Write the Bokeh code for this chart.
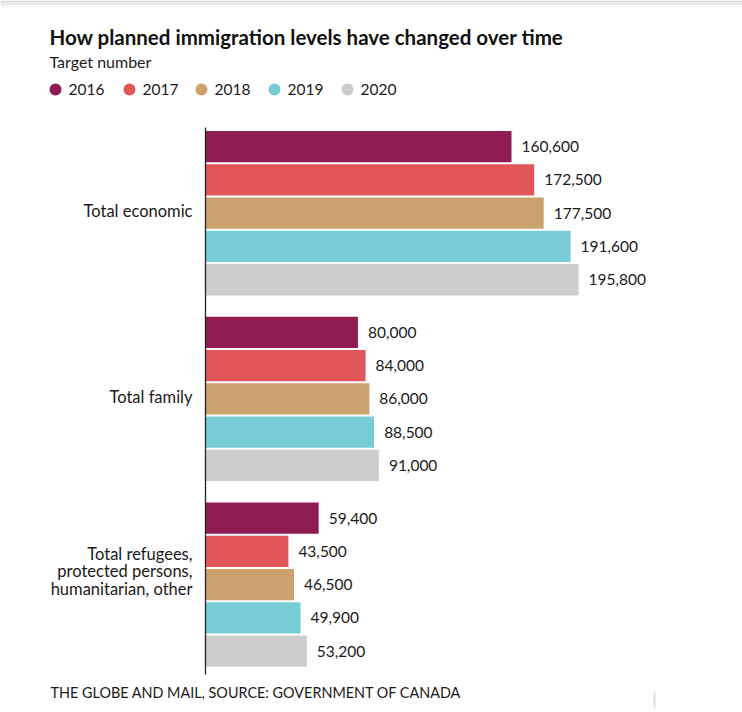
from bokeh.plotting import figure
from bokeh.models import Range1d, ColumnDataSource
from bokeh.core.properties import value
from bokeh.embed import file_html
from bokeh.resources import INLINE

# ---- data ----
categories = ["Total economic", "Total family", "Total refugees, protected persons, humanitarian, other"]
category_lines = [["Total economic"], ["Total family"], ["Total refugees,", "protected persons,", "humanitarian, other"]]
years = ["2016", "2017", "2018", "2019", "2020"]
colors = ["#8F1C52", "#E15759", "#CBA26D", "#78CCD6", "#CDCDCD"]
values_2016 = [160600, 80000, 59400]
values_2017 = [172500, 84000, 43500]
values_2018 = [177500, 86000, 46500]
values_2019 = [191600, 88500, 49900]
values_2020 = [195800, 91000, 53200]
series = [values_2016, values_2017, values_2018, values_2019, values_2020]

title = "How planned immigration levels have changed over time"
subtitle = "Target number"
footer = "THE GLOBE AND MAIL, SOURCE: GOVERNMENT OF CANADA"

FONT = "Lato"
TXT = "#1a1a1a"

# ---- layout helpers (canvas pixel -> data) ----
W, H = 742, 712
S = 0.0019054          # px per unit on x
SLOT = 33.28           # px per bar slot on y
GROUP = 5.58           # slots per group (5 bars + gap)
X0_PX, Y0_PX = 205, 129.5


def X(px):
    return (px - X0_PX) / S


def Y(py):
    return (py - Y0_PX) / SLOT


p = figure(width=W, height=H, output_backend="svg", toolbar_location=None,
           x_range=Range1d(X(0), X(W)), y_range=Range1d(Y(H), Y(0)),
           x_axis_type=None, y_axis_type=None, min_border=0)
p.outline_line_color = None
p.grid.visible = False
p.background_fill_color = "white"
p.border_fill_color = "white"

# top page shadow
shade_cols = ["#DCDCDC", "#E6E6E6", "#EFEFEF", "#F7F7F7"]
for k, c in enumerate(shade_cols):
    p.quad(left=[X(0)], right=[X(W)], top=[Y(k * 1.75)], bottom=[Y((k + 1) * 1.75)],
           fill_color=c, line_color=None)

# bars
for i, (yr, col, vals) in enumerate(zip(years, colors, series)):
    ys = [g * GROUP + i + 0.5 for g in range(len(categories))]
    src = ColumnDataSource(dict(y=ys, right=vals,
                                label=[f"{v:,}" for v in vals]))
    p.hbar(y="y", left=0, right="right", height=0.94, source=src,
           fill_color=col, line_color=None)
    p.text(x="right", y="y", text="label", source=src, x_offset=10,
           text_baseline="middle", text_align="left",
           text_font=value(FONT), text_font_size="15.5px", text_color=TXT)

# vertical axis line
p.segment(x0=[0], y0=[Y(127)], x1=[0], y1=[Y(674)], line_color="#222222", line_width=1.3)

# category labels (line centres relative to group centre, px)
line_offsets = [[-2.5], [-2], [-31, -13.5, 4]]
for g, lines in enumerate(category_lines):
    center_px = Y0_PX + (g * GROUP + 2.5) * SLOT
    for ln, off in zip(lines, line_offsets[g]):
        p.text(x=[0], y=[Y(center_px + off)], text=[ln], x_offset=-13,
               text_align="right", text_baseline="middle",
               text_font=value(FONT), text_font_size="16.5px", text_color=TXT)

# title / subtitle
p.text(x=[X(49)], y=[Y(36)], text=[title], text_align="left", text_baseline="middle",
       text_font=value(FONT), text_font_style="bold", text_font_size="20.5px", text_color="#111111")
p.text(x=[X(49)], y=[Y(61)], text=[subtitle], text_align="left", text_baseline="middle",
       text_font=value(FONT), text_font_size="16px", text_color=TXT)

# legend
leg_circle_x = [55, 129, 201, 274, 347]
for cx, yr, col in zip(leg_circle_x, years, colors):
    p.scatter(x=[X(cx)], y=[Y(89)], size=12, marker="circle", fill_color=col, line_color=None)
    p.text(x=[X(cx + 13)], y=[Y(89)], text=[yr], text_align="left", text_baseline="middle",
           text_font=value(FONT), text_font_size="15.5px", text_color=TXT)

# footer
p.text(x=[X(50)], y=[Y(692)], text=[footer], text_align="left", text_baseline="middle",
       text_font=value(FONT), text_font_size="14.4px", text_color=TXT)

# small decorative divider
p.segment(x0=[X(654)], y0=[Y(691)], x1=[X(654)], y1=[Y(708)], line_color="#DDDDDD", line_width=2)

open("out.html", "w").write(file_html(p, INLINE))
